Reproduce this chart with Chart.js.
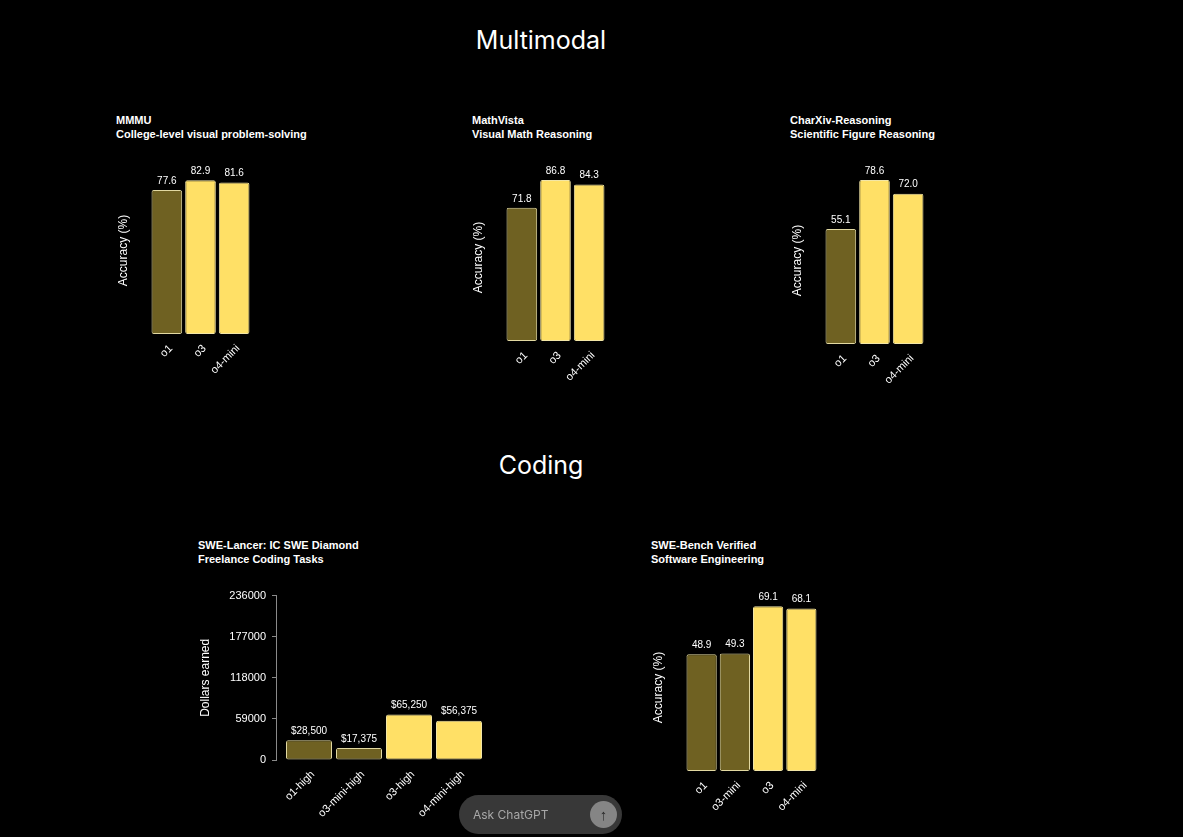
<!DOCTYPE html>
<html lang="en">
<head>
    <meta charset="UTF-8">
    <title>Multimodal and Coding benchmarks</title>
    <script src="https://cdn.jsdelivr.net/npm/chart.js"></script>
    <style>
        body { margin: 0; background: #000; width: 1183px; height: 837px; overflow: hidden; position: relative;
               font-family: "Liberation Sans", Arial, sans-serif; color: #fff; }
        .section { position: absolute; left: 0; width: 1082px; text-align: center; font-family: Inter, sans-serif; font-size: 25px; }
        .box { position: absolute; }
        .title { position: absolute; font-weight: bold; font-size: 11px; line-height: 13.5px; white-space: nowrap; }
        .pill { position: absolute; left: 459px; top: 795px; width: 163px; height: 39px; border-radius: 20px; background: #383838; }
        .pill span { position: absolute; left: 14px; top: 12px; font-size: 12px; color: #a8a8a8; font-family: Inter, sans-serif; }
        .pill i { position: absolute; right: 5px; top: 6px; width: 27px; height: 27px; border-radius: 50%; background: #858585;
                  font-style: normal; color: #2a2a2a; text-align: center; line-height: 27px; font-size: 15px; }
    </style>
</head>
<body>
    <div class="section" style="top:25px">Multimodal</div>
    <div class="section" style="top:450px">Coding</div>

    <div class="title" style="left:116px;top:114px">MMMU<br>College-level visual problem-solving</div>
    <div class="title" style="left:472px;top:114px">MathVista<br>Visual Math Reasoning</div>
    <div class="title" style="left:790px;top:114px">CharXiv-Reasoning<br>Scientific Figure Reasoning</div>
    <div class="title" style="left:198px;top:539px">SWE-Lancer: IC SWE Diamond<br>Freelance Coding Tasks</div>
    <div class="title" style="left:651px;top:539px">SWE-Bench Verified<br>Software Engineering</div>

    <div class="box" style="left:115.5px;top:147px;width:135px;height:232px"><canvas id="mmmu"></canvas></div>
    <div class="box" style="left:470.5px;top:153.5px;width:135px;height:232px"><canvas id="mathvista"></canvas></div>
    <div class="box" style="left:789.5px;top:156.5px;width:135px;height:232px"><canvas id="charxiv"></canvas></div>
    <div class="box" style="left:198px;top:583px;width:286px;height:247px"><canvas id="lancer"></canvas></div>
    <div class="box" style="left:650.5px;top:583.5px;width:167px;height:232px"><canvas id="swebench"></canvas></div>

    <div class="pill"><span>Ask ChatGPT</span><i>&#8593;</i></div>

    <script>
        // Benchmark data
        const mmmuModels = ['o1', 'o3', 'o4-mini'];
        const mmmuScores = [77.6, 82.9, 81.6];

        const mathVistaModels = ['o1', 'o3', 'o4-mini'];
        const mathVistaScores = [71.8, 86.8, 84.3];

        const charXivModels = ['o1', 'o3', 'o4-mini'];
        const charXivScores = [55.1, 78.6, 72.0];

        const lancerModels = ['o1-high', 'o3-mini-high', 'o3-high', 'o4-mini-high'];
        const lancerDollars = [28500, 17375, 65250, 56375];
        const lancerTicks = [0, 59000, 118000, 177000, 236000];

        const sweModels = ['o1', 'o3-mini', 'o3', 'o4-mini'];
        const sweScores = [48.9, 49.3, 69.1, 68.1];

        const OLD_FILL = '#6f6122', OLD_EDGE = '#e2d9a2';
        const NEW_FILL = '#ffe066', NEW_EDGE = '#f3e6a6';
        const isOld = m => m.startsWith('o1') || m.startsWith('o3-mini');

        // draws the value above each bar
        const valueLabels = {
            id: 'valueLabels',
            afterDatasetsDraw(chart, args, opts) {
                const ctx = chart.ctx;
                const ds = chart.data.datasets[0];
                ctx.save();
                ctx.fillStyle = '#fff';
                ctx.font = '10px "Liberation Sans", Arial, sans-serif';
                ctx.textAlign = 'center';
                ctx.textBaseline = 'bottom';
                chart.getDatasetMeta(0).data.forEach((bar, i) => {
                    ctx.fillText(opts.format(ds.data[i]), bar.x, bar.y - 4);
                });
                ctx.restore();
            }
        };

        function xAxis(h) {
            return {
                grid: { display: false },
                border: { display: false },
                ticks: { color: '#fff', font: { size: 11 }, minRotation: 45, maxRotation: 45, autoSkip: false,
                         padding: 0, labelOffset: 4 },
                afterFit: s => { s.height = h; }
            };
        }

        function accuracyChart(id, models, scores) {
            new Chart(document.getElementById(id), {
                type: 'bar',
                data: {
                    labels: models,
                    datasets: [{
                        data: scores,
                        backgroundColor: models.map(m => isOld(m) ? OLD_FILL : NEW_FILL),
                        borderColor: models.map(m => isOld(m) ? OLD_EDGE : NEW_EDGE),
                        borderWidth: 1,
                        borderRadius: 2,
                        borderSkipped: false,
                        barPercentage: 0.91,
                        categoryPercentage: 1
                    }]
                },
                options: {
                    responsive: true,
                    maintainAspectRatio: false,
                    animation: false,
                    layout: { padding: { top: 20 } },
                    plugins: {
                        legend: { display: false },
                        tooltip: { enabled: false },
                        valueLabels: { format: v => v.toFixed(1) }
                    },
                    scales: {
                        x: xAxis(45),
                        y: {
                            min: 0,
                            max: Math.ceil(Math.max(...scores) / 10) * 10,
                            grid: { display: false },
                            border: { display: false },
                            ticks: { display: false },
                            title: { display: true, text: 'Accuracy (%)', color: '#fff', font: { size: 12 }, padding: 0 },
                            afterFit: s => { s.width = 34; }
                        }
                    }
                },
                plugins: [valueLabels]
            });
        }

        Chart.defaults.font.family = '"Liberation Sans", Arial, sans-serif';

        accuracyChart('mmmu', mmmuModels, mmmuScores);
        accuracyChart('mathvista', mathVistaModels, mathVistaScores);
        accuracyChart('charxiv', charXivModels, charXivScores);
        accuracyChart('swebench', sweModels, sweScores);

        // SWE-Lancer has a visible dollar axis
        new Chart(document.getElementById('lancer'), {
            type: 'bar',
            data: {
                labels: lancerModels,
                datasets: [{
                    data: lancerDollars,
                    backgroundColor: lancerModels.map(m => isOld(m) ? OLD_FILL : NEW_FILL),
                    borderColor: lancerModels.map(m => isOld(m) ? OLD_EDGE : NEW_EDGE),
                    borderWidth: 1,
                    borderRadius: 2,
                    borderSkipped: false,
                    barPercentage: 0.92,
                    categoryPercentage: 1
                }]
            },
            options: {
                responsive: true,
                maintainAspectRatio: false,
                animation: false,
                layout: { padding: 0 },
                plugins: {
                    legend: { display: false },
                    tooltip: { enabled: false },
                    valueLabels: { format: v => '$' + v.toLocaleString('en-US') }
                },
                scales: {
                    x: xAxis(70),
                    y: {
                        min: lancerTicks[0],
                        max: lancerTicks[lancerTicks.length - 1],
                        weight: 1,
                        afterBuildTicks: s => { s.ticks = lancerTicks.map(v => ({ value: v })); },
                        grid: { drawOnChartArea: false, drawTicks: true, tickLength: 4, color: '#8a8a8a' },
                        border: { display: true, color: '#8a8a8a' },
                        ticks: { color: '#fff', font: { size: 11 }, padding: 6, callback: v => String(v) },
                        title: { display: true, text: 'Dollars earned', color: '#fff', font: { size: 12 }, padding: 0 },
                        afterFit: s => { s.width = 78; }
                    },
                    // empty spacer between the axis line and the first bar
                    gap: {
                        type: 'linear',
                        position: 'left',
                        weight: 0,
                        grid: { display: false },
                        border: { display: false },
                        ticks: { display: false },
                        afterFit: s => { s.width = 8; }
                    }
                }
            },
            plugins: [valueLabels]
        });
    </script>
</body>
</html>
